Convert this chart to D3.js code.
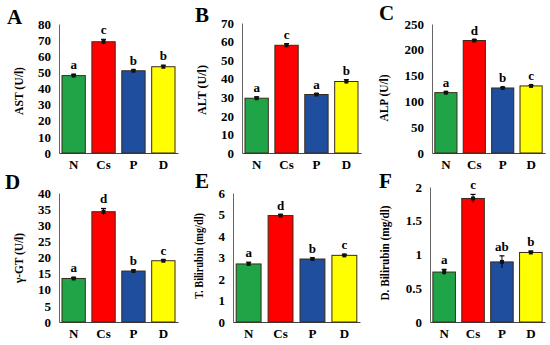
<!DOCTYPE html>
<html>
<head>
<meta charset="utf-8">
<script src="https://cdn.jsdelivr.net/npm/d3@7"></script>
<style>
body { margin: 0; background: #fff; }
text { font-family: "Liberation Serif", "Times New Roman", serif; font-weight: bold; }
</style>
</head>
<body>
<svg id="main" width="550" height="345"></svg>
<script>
var groups = ["N", "Cs", "P", "D"];
var colors = ["#1fa548", "#ff0000", "#1f4e9e", "#ffff00"];

var astVals = [48, 69, 51, 53.5], astErr = [0.8, 1.5, 0.5, 0.9], astSig = ["a", "c", "b", "b"];
var altVals = [29.5, 58, 31.5, 38.5], altErr = [0.7, 0.9, 0.5, 1.0], altSig = ["a", "c", "a", "b"];
var alpVals = [117, 218, 126, 130], alpErr = [1.5, 1.5, 1.2, 1.2], alpSig = ["a", "d", "b", "c"];
var ggtVals = [13.5, 34.2, 15.8, 19], ggtErr = [0.3, 1.0, 0.3, 0.3], ggtSig = ["a", "d", "b", "c"];
var tbilVals = [2.7, 4.95, 2.93, 3.1], tbilErr = [0.08, 0.05, 0.05, 0.04], tbilSig = ["a", "d", "b", "c"];
var dbilVals = [0.74, 1.83, 0.89, 1.03], dbilErr = [0.04, 0.06, 0.09, 0.02], dbilSig = ["a", "c", "ab", "b"];

var panels = [
  {tag: "A", title: "AST (U/l)", vals: astVals, err: astErr, sig: astSig, max: 80, step: 10,
   x0: 59, x1: 178, top: 24, bot: 153, tx: 23, tlen: 48, ty: 91, lx: 7, ly: 24},
  {tag: "B", title: "ALT (U/l)", vals: altVals, err: altErr, sig: altSig, max: 70, step: 10,
   x0: 242, x1: 361, top: 23, bot: 153, tx: 206, tlen: 50, ty: 90, lx: 195, ly: 22},
  {tag: "C", title: "ALP (U/l)", vals: alpVals, err: alpErr, sig: alpSig, max: 250, step: 50,
   x0: 432, x1: 545, top: 24, bot: 153, tx: 388, tlen: 47, ty: 98, lx: 379, ly: 20},
  {tag: "D", title: "γ-GT (U/l)", vals: ggtVals, err: ggtErr, sig: ggtSig, max: 40, step: 5,
   x0: 59, x1: 178, top: 193, bot: 322, tx: 23, tlen: 50, ty: 258, lx: 5, ly: 189},
  {tag: "E", title: "T. Bilirubin (mg/dl)", vals: tbilVals, err: tbilErr, sig: tbilSig, max: 6, step: 1,
   x0: 233, x1: 360, top: 193, bot: 322, tx: 203, tlen: 86, ty: 256, lx: 195, ly: 188},
  {tag: "F", title: "D. Bilirubin (mg/dl)", vals: dbilVals, err: dbilErr, sig: dbilSig, max: 2, step: 0.5,
   x0: 430, x1: 545, top: 187, bot: 322, tx: 389, tlen: 95, ty: 253, lx: 379, ly: 188}
];

var svg = d3.select("#main");

panels.forEach(function(p) {
  var g = svg.append("g");
  var x = d3.scaleBand().domain(groups).range([p.x0, p.x1]).paddingInner(0.22).paddingOuter(0.1);
  var y = d3.scaleLinear().domain([0, p.max]).range([p.bot, p.top]);

  // y axis
  var ya = g.append("g")
    .attr("transform", "translate(" + p.x0 + ",0)")
    .call(d3.axisLeft(y).tickValues(d3.range(0, p.max + p.step / 2, p.step)).tickSize(0).tickPadding(8)
      .tickFormat(d3.format("~g")));
  ya.attr("font-family", null);
  ya.select(".domain").attr("stroke", "#666");
  ya.selectAll("text").attr("font-size", 13).attr("fill", "#000");

  // x axis
  var xa = g.append("g")
    .attr("transform", "translate(0," + p.bot + ")")
    .call(d3.axisBottom(x).tickSize(0).tickPadding(7));
  xa.attr("font-family", null);
  xa.select(".domain").attr("stroke", "#444");
  xa.selectAll("text").attr("font-size", 13).attr("fill", "#000");

  // bars
  g.selectAll("rect.bar").data(p.vals).enter().append("rect")
    .attr("class", "bar")
    .attr("x", function(d, i) { return x(groups[i]); })
    .attr("width", x.bandwidth())
    .attr("y", function(d) { return y(d); })
    .attr("height", function(d) { return p.bot - y(d); })
    .attr("fill", function(d, i) { return colors[i]; })
    .attr("stroke", "#3a2a1a").attr("stroke-width", 1);

  // error bars
  var eb = g.selectAll("g.err").data(p.vals).enter().append("g").attr("class", "err");
  eb.append("line")
    .attr("x1", function(d, i) { return x(groups[i]) + x.bandwidth() / 2; })
    .attr("x2", function(d, i) { return x(groups[i]) + x.bandwidth() / 2; })
    .attr("y1", function(d, i) { return y(d - p.err[i]); })
    .attr("y2", function(d, i) { return y(d + p.err[i]); })
    .attr("stroke", "#000").attr("stroke-width", 1);
  eb.append("line")
    .attr("x1", function(d, i) { return x(groups[i]) + x.bandwidth() / 2 - 2.5; })
    .attr("x2", function(d, i) { return x(groups[i]) + x.bandwidth() / 2 + 2.5; })
    .attr("y1", function(d, i) { return y(d + p.err[i]); })
    .attr("y2", function(d, i) { return y(d + p.err[i]); })
    .attr("stroke", "#000").attr("stroke-width", 1.2);
  eb.append("rect")
    .attr("x", function(d, i) { return x(groups[i]) + x.bandwidth() / 2 - 2; })
    .attr("y", function(d) { return y(d) - 2; })
    .attr("width", 4).attr("height", 4)
    .attr("fill", "#111");

  // significance letters
  g.selectAll("text.sig").data(p.vals).enter().append("text")
    .attr("class", "sig")
    .attr("x", function(d, i) { return x(groups[i]) + x.bandwidth() / 2; })
    .attr("y", function(d, i) { return y(d + p.err[i]) - 5; })
    .attr("text-anchor", "middle").attr("font-size", 13)
    .text(function(d, i) { return p.sig[i]; });

  // y title
  g.append("text")
    .attr("transform", "translate(" + p.tx + "," + p.ty + ") rotate(-90)")
    .attr("text-anchor", "middle").attr("font-size", 12)
    .attr("textLength", p.tlen).attr("lengthAdjust", "spacingAndGlyphs")
    .text(p.title);

  // panel tag
  g.append("text")
    .attr("x", p.lx).attr("y", p.ly)
    .attr("font-size", 21)
    .text(p.tag);
});
</script>
</body>
</html>
